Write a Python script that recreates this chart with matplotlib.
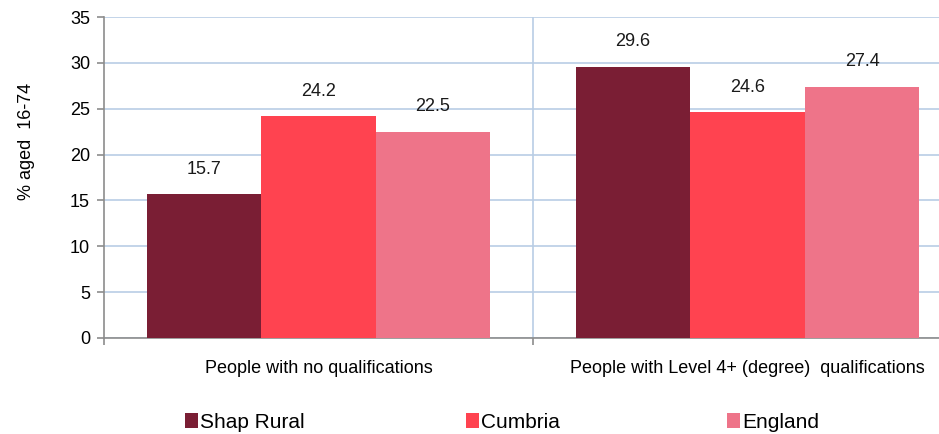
import numpy as np
import matplotlib
matplotlib.use("Agg")
from matplotlib import pyplot as plt
from matplotlib.patches import Patch

plt.rcParams["font.family"] = ["Liberation Sans", "DejaVu Sans"]

categories = ["People with no qualifications", "People with Level 4+ (degree)  qualifications"]
series_names = ["Shap Rural", "Cumbria", "England"]
shap_rural = [15.7, 29.6]
cumbria = [24.2, 24.6]
england = [22.5, 27.4]
colors = ["#7a1e34", "#ff4350", "#ee7489"]

grid_color = "#b9cde5"
axis_color = "#8c8c8c"

fig = plt.figure(figsize=(9.39, 4.34), dpi=100)
# plot area runs past the right edge of the image, as in the reference
ax = fig.add_axes([104 / 939, (434 - 338) / 434, 858 / 939, 321 / 434])

x = np.arange(len(categories))
width = 0.267
all_values = [shap_rural, cumbria, england]
for i, (vals, col) in enumerate(zip(all_values, colors)):
    pos = x + (i - 1) * width
    ax.bar(pos, vals, width=width, color=col, zorder=3)
    for px, v in zip(pos, vals):
        ax.annotate(f"{v:.1f}", (px, v), xytext=(0, 18), textcoords="offset points",
                    ha="center", va="center", fontsize=13, color="#1a1a1a")

ax.set_xlim(-0.5, 1.5)
ax.set_ylim(0, 35)
ax.set_yticks(np.arange(0, 36, 5))
ax.yaxis.grid(True, color=grid_color, linewidth=1.2, zorder=0)
ax.axvline(0.5, color=grid_color, linewidth=1.2, zorder=0)

ax.set_xticks([-0.5, 0.5, 1.5])
ax.set_xticklabels([])
ax.set_xticks(x, minor=True)
ax.set_xticklabels(categories, minor=True, fontsize=13)
ax.tick_params(axis="x", which="minor", length=0, pad=16)
ax.tick_params(axis="x", which="major", length=5, color=axis_color, width=1.2)
ax.tick_params(axis="y", length=5, color=axis_color, width=1.2, labelsize=13, pad=5)

for side in ["top", "right"]:
    ax.spines[side].set_visible(False)
for side in ["left", "bottom"]:
    ax.spines[side].set_color(axis_color)
    ax.spines[side].set_linewidth(1.2)

ax.set_ylabel("% aged  16-74", fontsize=13)
ax.yaxis.set_label_coords(-(104 - 35) / 858, (338 - 141) / 321)

legend_x = [185 / 939, 466 / 939, 727 / 939]
for name, col, lx in zip(series_names, colors, legend_x):
    fig.legend(handles=[Patch(facecolor=col, edgecolor="none")], labels=[name],
               loc="center left", bbox_to_anchor=(lx, 1 - 422 / 434), frameon=False,
               fontsize=15, handlelength=0.62, handleheight=0.72, handletextpad=0.1,
               borderpad=0, borderaxespad=0)

fig.savefig("out.png", dpi=100)
